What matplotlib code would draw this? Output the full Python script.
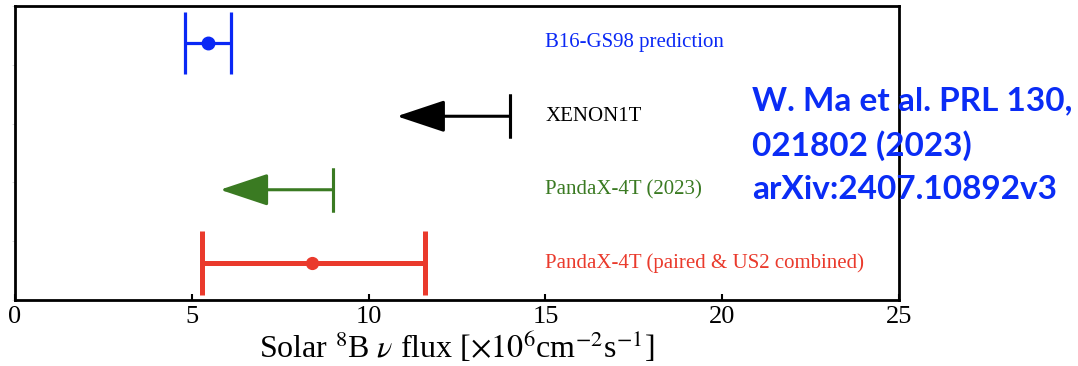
import matplotlib

matplotlib.use("Agg")
from matplotlib import pyplot as plt

# measurements (x10^6 cm^-2 s^-1)
labels = ["B16-GS98 prediction", "XENON1T", "PandaX-4T (2023)", "PandaX-4T (paired & US2 combined)"]
colors = ["#0a28f5", "black", "#3a7a22", "#ea3a2c"]
rows = [4.375, 3.125, 1.875, 0.625]

# central values with errors
pred_val, pred_lo, pred_hi = 5.46, 0.66, 0.66
comb_val, comb_lo, comb_hi = 8.4, 3.1, 3.2
# upper limits, drawn as left arrows
limits = [14.0, 9.0]
arrow_len = 3.2

plt.rcParams["font.family"] = ["Liberation Serif", "DejaVu Serif"]
plt.rcParams["mathtext.fontset"] = "stix"

fig = plt.figure(figsize=(10.78, 3.66), dpi=100)
ax = fig.add_axes([15 / 1078, 66 / 366, 884 / 1078, 294 / 366])

# prediction
ax.errorbar(pred_val, rows[0], xerr=[[pred_lo], [pred_hi]], fmt="o", color=colors[0],
            ms=9, lw=2.3, capsize=22, capthick=2.3)

# upper limits
for lim, y, c in zip(limits, rows[1:3], colors[1:3]):
    ax.errorbar(lim, y, xerr=[[0], [0]], fmt="none", ecolor=c, capsize=16, capthick=2.2)
    ax.annotate("", xy=(lim - arrow_len, y), xytext=(lim, y),
                arrowprops=dict(arrowstyle="-|>,head_length=1.5,head_width=0.5", mutation_scale=20,
                                color=c, lw=2.2, shrinkA=0, shrinkB=0))

# combined result
ax.errorbar(comb_val, rows[3], xerr=[[comb_lo], [comb_hi]], fmt="o", color=colors[3],
            ms=8.5, lw=3.6, capsize=23, capthick=3.6)

for lab, y, c in zip(labels, rows, colors):
    ax.text(15.0, y, lab, color=c, fontsize=15, va="center", ha="left")

ax.set_xlim(0, 25)
ax.set_ylim(0, 5)
ax.set_xticks([0, 5, 10, 15, 20, 25])
ax.set_yticks([0, 1, 2, 3, 4, 5])
ax.set_yticklabels([])
ax.tick_params(axis="x", direction="in", length=4, width=1.5, labelsize=19, pad=4)
ax.tick_params(axis="y", direction="out", length=2, width=0.5, color="#cccccc")
for s in ax.spines.values():
    s.set_linewidth(2)
ax.set_xlabel(r"Solar $^{8}$B $\nu$ flux [$\times10^{6}$cm$^{-2}$s$^{-1}$]", fontsize=23, labelpad=1.5)

fig.text(752 / 1078, 1 - 145 / 366,
         "W. Ma et al. PRL 130,\n021802 (2023)\narXiv:2407.10892v3",
         family=["Lato", "DejaVu Sans"], fontweight="bold", fontsize=24, color="#0a2cf5",
         va="center", ha="left", linespacing=1.58)

fig.savefig("out.png", dpi=100)
